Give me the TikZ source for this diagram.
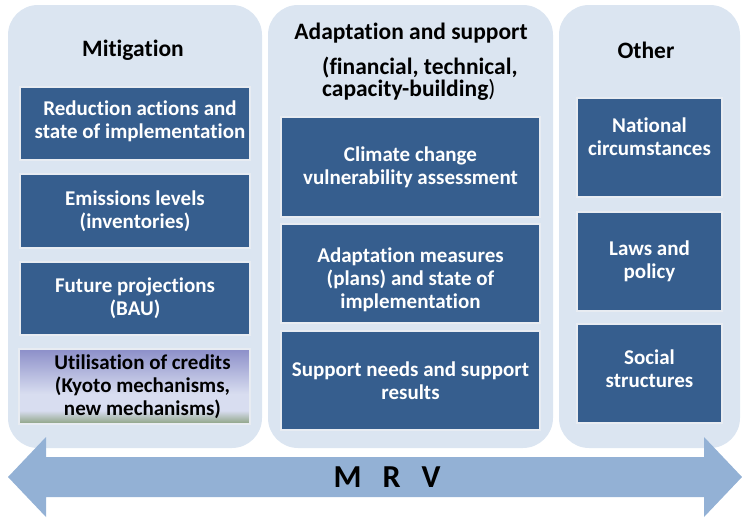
\documentclass[tikz,border=0pt]{standalone}
\usepackage{fontspec}
\setmainfont{Carlito}[Ligatures=NoCommon]
\definecolor{panelblue}{RGB}{219,229,241}
\definecolor{itemblue}{RGB}{54,94,142}
\definecolor{itemedge}{RGB}{232,236,242}
\definecolor{arrowblue}{RGB}{147,177,213}
\definecolor{credtop}{RGB}{140,143,201}
\definecolor{credlight}{RGB}{216,221,240}
\definecolor{credgreen}{RGB}{140,162,130}
\pgfdeclareverticalshading{credshade}{100bp}{color(0bp)=(credgreen); color(25bp)=(credgreen); color(34bp)=(credlight); color(45bp)=(credlight); color(75bp)=(credtop); color(100bp)=(credtop)}

\begin{document}
\begin{tikzpicture}[x=1pt,y=-1pt,
    panel/.style={fill=panelblue, rounded corners=30pt, inner sep=0pt},
    item/.style={fill=itemblue, draw=itemedge, line width=1.2pt, text=white, align=center, inner sep=0pt, font=\fontsize{21}{23}\selectfont\bfseries},
    itemtext/.style={text=white, align=center, inner sep=0pt, font=\fontsize{21}{23}\selectfont\bfseries},
    heading/.style={font=\fontsize{23.5}{22}\selectfont\bfseries, inner sep=0pt}]
    \useasboundingbox (0,0) rectangle (742,517);
    \node[panel, minimum width=254pt, minimum height=443pt] (mitpanel) at (135,226.5) {};
    \node[panel, minimum width=285pt, minimum height=443pt] (adpanel) at (410.5,226.5) {};
    \node[panel, minimum width=181pt, minimum height=443pt] (othpanel) at (649.5,226.5) {};
    \fill[arrowblue] (8,477) -- (46,437) -- (46,457) -- (704,457) -- (704,437) -- (742,477)
        -- (704,517) -- (704,497) -- (46,497) -- (46,517) -- cycle;
    \node[font=\fontsize{32}{32}\selectfont\bfseries, inner sep=0pt] (mrv) at (387,477) {M\hspace{21pt}R\hspace{21pt}V};
    \node[heading] (mittitle) at (133,50) {Mitigation};
    \node[heading] (adtitle) at (411,33) {Adaptation and support};
    \node[heading, align=left, anchor=west] (adsub) at (322,79) {(financial, technical,\\capacity-building{\mdseries)}};
    \node[heading] (othtitle) at (646,50) {Other};
    \node[item, minimum width=230pt, minimum height=73pt] (reduce) at (135,123.5) {};
    \node[itemtext] (redtext) at ([xshift=5pt,yshift=2pt]reduce.center) {Reduction actions and\\state of implementation};
    \node[item, minimum width=230pt, minimum height=74pt] (emis) at (135,211) {Emissions levels\\(inventories)};
    \node[item, minimum width=230pt, minimum height=73pt] (future) at (135,298.5) {Future projections\\(BAU)};
    \node[item, shading=credshade, text=black, minimum width=231pt, minimum height=75pt] (credits) at (134.5,386.5) {};
    \node[itemtext, text=black] (credtext) at ([xshift=8pt]credits.center) {Utilisation of credits\\(Kyoto mechanisms,\\new mechanisms)};
    \node[item, minimum width=259pt, minimum height=100pt] (climate) at (410.5,167) {Climate change\\vulnerability assessment};
    \node[item, minimum width=259pt, minimum height=99pt] (measures) at (410.5,273.5) {};
    \node[itemtext] (meastext) at ([yshift=-6pt]measures.center) {Adaptation measures\\(plans) and state of\\implementation};
    \node[item, minimum width=259pt, minimum height=99pt] (needs) at (410.5,380.5) {Support needs and support\\results};
    \node[item, minimum width=145pt, minimum height=99pt] (national) at (649.5,147.5) {};
    \node[itemtext] (nattext) at ([yshift=11pt]national.center) {National\\circumstances};
    \node[item, minimum width=145pt, minimum height=99pt] (laws) at (649.5,261.5) {Laws and\\policy};
    \node[item, minimum width=145pt, minimum height=99pt] (social) at (649.5,373.5) {};
    \node[itemtext] (soctext) at ([yshift=5pt]social.center) {Social\\structures};
\end{tikzpicture}
\end{document}
